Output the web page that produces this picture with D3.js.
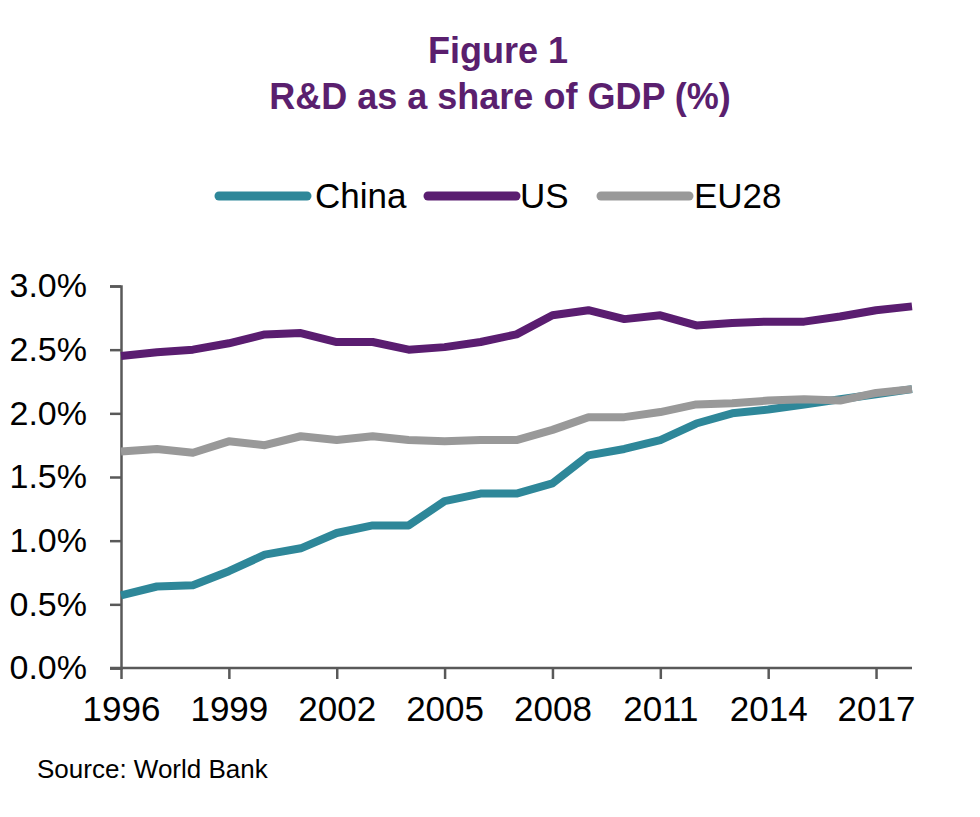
<!DOCTYPE html>
<html>
<head>
<meta charset="utf-8">
<script src="https://cdn.jsdelivr.net/npm/d3@7"></script>
<style>
    body { margin: 0; background: #fff; }
    text { font-family: "Liberation Sans", Arial, sans-serif; }
</style>
</head>
<body>
<div id="chartDiv"></div>
<script>
// Years on the x axis
const years = d3.range(1996, 2019);
const tickYears = [1996, 1999, 2002, 2005, 2008, 2011, 2014, 2017];
const yTicks = [0, 0.5, 1.0, 1.5, 2.0, 2.5, 3.0];

// R&D share of GDP (%)
const china = [0.57, 0.64, 0.65, 0.76, 0.89, 0.94, 1.06, 1.12, 1.12, 1.31, 1.37, 1.37, 1.45, 1.67, 1.72, 1.79, 1.92, 2.00, 2.03, 2.07, 2.11, 2.15, 2.19];
const us = [2.45, 2.48, 2.50, 2.55, 2.62, 2.63, 2.56, 2.56, 2.50, 2.52, 2.56, 2.62, 2.77, 2.81, 2.74, 2.77, 2.69, 2.71, 2.72, 2.72, 2.76, 2.81, 2.84];
const eu28 = [1.70, 1.72, 1.69, 1.78, 1.75, 1.82, 1.79, 1.82, 1.79, 1.78, 1.79, 1.79, 1.87, 1.97, 1.97, 2.01, 2.07, 2.08, 2.10, 2.11, 2.10, 2.16, 2.19];

const seriesNames = ["China", "US", "EU28"];
const seriesColors = ["#2e8799", "#5a1d70", "#999999"];

document.addEventListener("DOMContentLoaded", function () {
    const width = 980;
    const height = 817;
    const margin = { top: 286, right: 68, bottom: 149, left: 121 };

    const svg = d3.select("#chartDiv")
        .append("svg")
        .attr("width", width)
        .attr("height", height);

    // Titolo
    svg.append("text")
        .attr("x", 498)
        .attr("y", 63)
        .attr("text-anchor", "middle")
        .attr("font-size", 36)
        .attr("font-weight", "bold")
        .attr("fill", "#5a1f6e")
        .text("Figure 1");

    svg.append("text")
        .attr("x", 500)
        .attr("y", 109)
        .attr("text-anchor", "middle")
        .attr("font-size", 36)
        .attr("font-weight", "bold")
        .attr("fill", "#5a1f6e")
        .text("R&D as a share of GDP (%)");

    // Scales
    const x = d3.scaleLinear()
        .domain([1996, 2018])
        .range([margin.left, width - margin.right]);

    const y = d3.scaleLinear()
        .domain([0, 3])
        .range([height - margin.bottom, margin.top]);

    // Y axis
    const yAxis = svg.append("g")
        .attr("transform", `translate(${margin.left},0)`)
        .call(d3.axisLeft(y).tickValues(yTicks).tickSize(11).tickPadding(23)
            .tickFormat(d => d.toFixed(1) + "%"));
    yAxis.select(".domain").attr("stroke", "#595959").attr("stroke-width", 2.5);
    yAxis.selectAll(".tick line").attr("stroke", "#595959").attr("stroke-width", 2.5);
    yAxis.selectAll(".tick text")
        .attr("font-size", 34)
        .attr("font-family", "Liberation Sans, Arial, sans-serif")
        .attr("fill", "#000");

    // X axis
    const xAxis = svg.append("g")
        .attr("transform", `translate(0,${height - margin.bottom})`)
        .call(d3.axisBottom(x).tickValues(tickYears).tickSize(11).tickPadding(17)
            .tickFormat(d3.format("d")));
    xAxis.select(".domain")
        .attr("d", `M${margin.left - 11},0H${width - margin.right}`)
        .attr("stroke", "#595959").attr("stroke-width", 2.5);
    xAxis.selectAll(".tick line").attr("stroke", "#595959").attr("stroke-width", 2.5);
    xAxis.selectAll(".tick text")
        .attr("font-size", 35)
        .attr("font-family", "Liberation Sans, Arial, sans-serif")
        .attr("fill", "#000");

    // Lines
    const line = d3.line()
        .x((d, i) => x(years[i]))
        .y(d => y(d));

    const allSeries = [china, us, eu28];
    // Draw order: US, China, EU28 on top
    [1, 0, 2].forEach(k => {
        svg.append("path")
            .datum(allSeries[k])
            .attr("fill", "none")
            .attr("stroke", seriesColors[k])
            .attr("stroke-width", 8)
            .attr("stroke-linejoin", "round")
            .attr("d", line);
    });

    // Legend
    const legendItems = [
        { x1: 219, x2: 307, tx: 315 },
        { x1: 428, x2: 516, tx: 520 },
        { x1: 601, x2: 689, tx: 694 }
    ];
    const legend = svg.append("g").attr("class", "legend");
    legendItems.forEach((p, i) => {
        legend.append("line")
            .attr("x1", p.x1).attr("x2", p.x2)
            .attr("y1", 196).attr("y2", 196)
            .attr("stroke", seriesColors[i])
            .attr("stroke-width", 9)
            .attr("stroke-linecap", "round");
        legend.append("text")
            .attr("x", p.tx)
            .attr("y", 208)
            .attr("font-size", 35)
            .attr("fill", "#000")
            .text(seriesNames[i]);
    });

    // Fonte
    svg.append("text")
        .attr("x", 37)
        .attr("y", 778)
        .attr("font-size", 26)
        .attr("fill", "#000")
        .text("Source: World Bank");
});
</script>
</body>
</html>
